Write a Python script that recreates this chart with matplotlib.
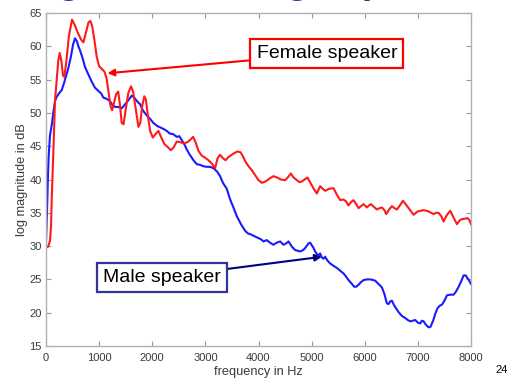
import matplotlib
matplotlib.use("Agg")
import matplotlib.pyplot as plt

plt.rcParams['font.family'] = ['Liberation Sans', 'DejaVu Sans']

# long-term spectra, read at irregular frequencies (Hz) -> level (dB)
female_hz = [0, 40, 75, 95, 107, 138, 170, 201, 232, 258, 290, 320, 345, 380, 430,
             490, 540, 600, 660, 705, 750, 800, 835, 870, 910, 955, 1000, 1050,
             1100, 1140, 1180, 1215, 1245, 1280, 1320, 1360, 1395, 1425, 1460,
             1500, 1550, 1600, 1640, 1690, 1740, 1775, 1810, 1850, 1880, 1920,
             1960, 2010, 2060, 2116, 2170, 2230, 2300, 2350, 2400, 2461, 2530,
             2600, 2680, 2770, 2820, 2870, 2930, 2990, 3057, 3120, 3183, 3230,
             3277, 3330, 3380, 3440, 3530, 3600, 3660, 3700, 3760, 3830, 3874,
             3940, 4000, 4063, 4130, 4200, 4281, 4350, 4420, 4502, 4560, 4609,
             4660, 4721, 4770, 4816, 4870, 4923, 4970, 5040, 5098, 5161, 5210,
             5255, 5330, 5412, 5470, 5538, 5600, 5650, 5694, 5740, 5788, 5840,
             5883, 5930, 5977, 6040, 6080, 6116, 6170, 6229, 6280, 6323, 6370,
             6404, 6460, 6511, 6560, 6606, 6660, 6719, 6770, 6825, 6870, 6919,
             6995, 7050, 7107, 7160, 7201, 7250, 7296, 7340, 7390, 7440, 7484,
             7540, 7610, 7670, 7736, 7780, 7811, 7870, 7937, 7970, 8000]
female_db = [29.8, 29.9, 30.8, 33.0, 36.9, 44.0, 51.9, 54.9, 57.9, 59.0, 57.8, 55.6,
             55.4, 57.5, 61.5, 64.0, 63.2, 62.0, 61.0, 60.6, 62.0, 63.6, 63.8, 63.0,
             61.0, 58.4, 57.0, 56.6, 56.2, 55.2, 53.0, 51.0, 50.4, 51.5, 52.8, 53.2,
             51.0, 48.5, 48.3, 50.5, 53.0, 54.0, 53.2, 50.5, 47.9, 48.5, 51.0, 52.5,
             52.0, 49.5, 47.3, 46.3, 46.8, 47.3, 46.3, 45.3, 44.8, 44.4, 44.8, 45.7,
             45.6, 45.4, 45.7, 46.4, 45.5, 44.3, 43.6, 43.3, 42.9, 42.4, 41.7, 43.2,
             43.7, 43.2, 42.9, 43.4, 43.9, 44.2, 44.1, 43.6, 42.6, 41.8, 41.4, 40.6,
             39.9, 39.5, 39.7, 40.1, 40.5, 40.3, 40.0, 39.9, 40.4, 40.9, 40.3, 39.9,
             39.6, 39.7, 40.0, 40.3, 39.6, 38.6, 37.9, 39.0, 38.6, 38.3, 38.6, 38.7,
             37.8, 36.9, 37.0, 36.7, 36.1, 36.6, 36.9, 36.3, 35.7, 36.0, 36.3, 35.8,
             36.1, 36.3, 35.9, 35.5, 35.7, 35.8, 35.4, 34.8, 35.5, 36.0, 35.7, 35.5,
             36.1, 36.8, 36.3, 35.7, 35.2, 34.7, 35.2, 35.3, 35.4, 35.3, 35.2, 35.0,
             34.8, 35.0, 35.0, 34.5, 33.7, 34.6, 35.3, 34.3, 33.3, 33.8, 34.0, 34.1,
             34.2, 33.9, 33.3]

male_hz = [0, 20, 35, 50, 75, 110, 140, 170, 201, 250, 295, 340, 380, 420, 470, 510,
           546, 580, 610, 640, 690, 734, 790, 860, 920, 986, 1040, 1080, 1143, 1200,
           1250, 1300, 1360, 1425, 1480, 1540, 1614, 1660, 1720, 1771, 1830, 1900,
           1959, 2020, 2100, 2210, 2273, 2330, 2398, 2461, 2510, 2556, 2610, 2650,
           2700, 2775, 2838, 2900, 2960, 3026, 3090, 3152, 3220, 3277, 3330, 3403,
           3466, 3528, 3591, 3670, 3748, 3800, 3843, 3920, 4000, 4050, 4093, 4156,
           4220, 4281, 4340, 4408, 4470, 4520, 4564, 4630, 4690, 4784, 4840, 4878,
           4940, 4973, 5030, 5067, 5100, 5130, 5160, 5192, 5223, 5255, 5300, 5349,
           5420, 5480, 5538, 5600, 5650, 5694, 5750, 5800, 5840, 5883, 5930, 5977,
           6040, 6103, 6160, 6198, 6260, 6323, 6370, 6417, 6448, 6480, 6511, 6560,
           6636, 6700, 6763, 6810, 6857, 6900, 6950, 7000, 7045, 7076, 7107, 7150,
           7201, 7240, 7265, 7296, 7330, 7371, 7420, 7453, 7500, 7547, 7600, 7672,
           7720, 7767, 7820, 7861, 7900, 7924, 7960, 8000]
male_db = [30.5, 35.5, 40.0, 43.5, 46.6, 48.3, 50.2, 51.8, 52.4, 53.0, 53.4, 54.5,
           55.6, 56.7, 58.5, 60.3, 61.2, 60.8, 60.0, 59.4, 58.2, 56.9, 55.9, 54.7,
           53.8, 53.3, 52.9, 52.3, 52.1, 51.8, 51.2, 50.9, 50.9, 50.7, 51.2, 51.8,
           52.6, 52.3, 51.7, 51.3, 50.3, 49.6, 49.1, 48.5, 48.0, 47.6, 47.3, 46.9,
           46.8, 46.4, 46.5, 45.9, 45.2, 44.5, 43.8, 42.9, 42.3, 42.2, 42.0, 41.9,
           41.9, 41.7, 41.2, 40.5, 39.5, 38.6, 37.0, 35.8, 34.5, 33.3, 32.3, 31.9,
           31.8, 31.5, 31.2, 31.0, 30.7, 30.9, 30.5, 30.2, 30.5, 30.7, 30.2, 30.4,
           30.7, 29.9, 29.4, 29.2, 29.4, 29.7, 30.4, 30.5, 29.8, 29.2, 28.8, 28.6,
           28.9, 28.3, 28.1, 28.4, 27.8, 27.4, 27.0, 26.7, 26.3, 25.9, 25.4, 24.9,
           24.4, 23.9, 23.9, 24.2, 24.6, 24.9, 25.0, 25.0, 24.9, 24.8, 24.3, 23.8,
           22.8, 21.4, 21.3, 21.7, 21.8, 21.0, 20.1, 19.5, 19.2, 18.9, 18.7, 18.8,
           18.9, 18.5, 18.4, 18.8, 18.7, 18.2, 17.8, 17.9, 18.4, 19.0, 19.9, 20.7,
           21.1, 21.2, 21.8, 22.6, 22.7, 22.7, 23.2, 23.9, 24.8, 25.6, 25.6, 25.3,
           24.9, 24.3]

x_ticks = [0, 1000, 2000, 3000, 4000, 5000, 6000, 7000, 8000]
y_ticks = [15, 20, 25, 30, 35, 40, 45, 50, 55, 60, 65]

W, H = 516, 379
fig = plt.figure(figsize=(W / 100, H / 100), dpi=100)
ax = fig.add_axes([46 / W, 1 - 346 / H, 425 / W, 333 / H])

ax.plot(male_hz, male_db, color='#1a1aff', lw=1.5)
ax.plot(female_hz, female_db, color='#ff1a1a', lw=1.5)

ax.set_xlim(0, 8000)
ax.set_ylim(15, 65)
ax.set_xticks(x_ticks)
ax.set_yticks(y_ticks)
ax.tick_params(direction='in', length=3.5, width=0.8, color='#999999',
               labelsize=8, labelcolor='#3a3a3a', top=True, right=True)
ax.tick_params(axis='x', pad=5)
ax.tick_params(axis='y', pad=3)
for s in ax.spines.values():
    s.set_color('#b0b0b0')
    s.set_linewidth(1.0)

ax.set_xlabel('frequency in Hz', fontsize=9.2, color='#3a3a3a', labelpad=2)
ax.set_ylabel('log magnitude in dB', fontsize=9.2, color='#3a3a3a', labelpad=1)

# callouts
ax.annotate('Female speaker', xy=(1155, 55.95), xytext=(5287, 58.94),
            fontsize=14, ha='center', va='center',
            bbox=dict(boxstyle='square,pad=0.32', fc='white', ec='#ff0000', lw=1.6),
            arrowprops=dict(arrowstyle='-|>', color='#ff0000', lw=1.5,
                            mutation_scale=10, shrinkA=0, shrinkB=0))
ax.annotate('Male speaker', xy=(5193, 28.4), xytext=(2179, 25.3),
            fontsize=14, ha='center', va='center',
            bbox=dict(boxstyle='square,pad=0.32', fc='white', ec='#333399', lw=1.6),
            arrowprops=dict(arrowstyle='-|>', color='#000080', lw=1.5,
                            mutation_scale=10, shrinkA=0, shrinkB=0))

# slide title, sitting above the top edge so only descenders show
fig.text(-12 / W, 1 + 7 / H, 'Long-term average spectrum', fontsize=27.4,
         weight='bold', color='#333399', ha='left', va='baseline')
# slide number
fig.text(502 / W, 1 - 370 / H, '24', fontsize=8, ha='center', va='center')

fig.savefig('out.png', dpi=100)
